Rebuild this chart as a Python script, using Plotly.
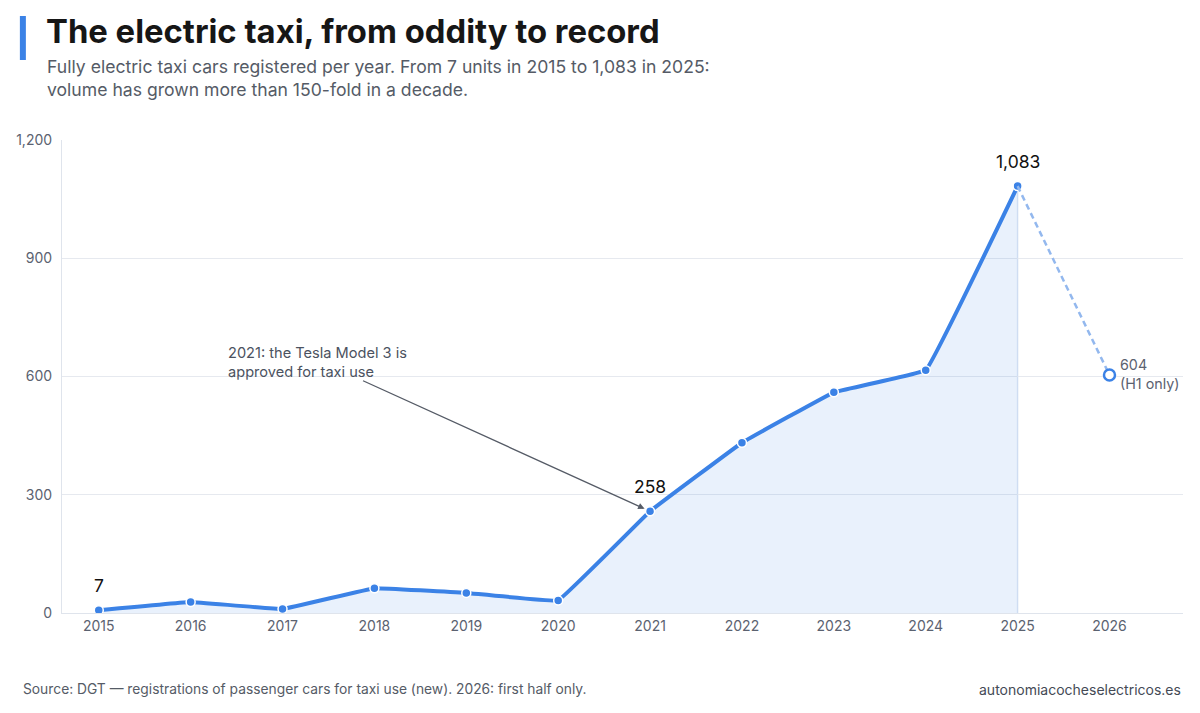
import plotly.graph_objects as go

years = [2015, 2016, 2017, 2018, 2019, 2020, 2021, 2022, 2023, 2024, 2025]
values = [7, 28, 10, 63, 51, 32, 258, 432, 560, 616, 1083]
partial_year = 2026
partial_value = 604
x_ticks = list(range(2015, 2027))
y_ticks = [0, 300, 600, 900, 1200]

BLUE = "#3b82e6"
FONT = "Inter"

fig = go.Figure()

fig.add_trace(go.Scatter(
    x=years, y=values, mode="lines+markers",
    line=dict(color=BLUE, width=4, shape="spline", smoothing=0.15),
    fill="tozeroy", fillcolor="rgba(59,130,230,0.11)",
    marker=dict(size=9, color=BLUE, line=dict(color="white", width=1.5)),
    hoverinfo="x+y", showlegend=False,
))

fig.add_trace(go.Scatter(
    x=[years[-1], partial_year], y=[values[-1], partial_value],
    mode="lines", line=dict(color="#93b8ee", width=2.5, dash="6px,4px"),
    showlegend=False, hoverinfo="skip",
))
fig.add_trace(go.Scatter(
    x=[partial_year], y=[partial_value], mode="markers",
    marker=dict(size=11, color="white", line=dict(color=BLUE, width=2.5)),
    showlegend=False, hoverinfo="x+y",
))

fig.add_shape(type="line", x0=years[-1], x1=years[-1], y0=0, y1=values[-1],
              line=dict(color="#dbe5f4", width=1.5), layer="below")

# accent bar next to title
fig.add_shape(type="line", xref="paper", yref="paper", x0=-0.0349, x1=-0.0349,
              y0=(613 - 16) / 473, y1=(613 - 60) / 473,
              line=dict(color=BLUE, width=6))

for yr, v in [(years[0], values[0]), (years[6], values[6]), (years[-1], values[-1])]:
    fig.add_annotation(x=yr, y=v, text=f"{v:,}", showarrow=False,
                       yshift=25, font=dict(family=FONT, size=17.5, color="#111111"))

fig.add_annotation(x=partial_year, y=partial_value, text=f"{partial_value}<br>(H1 only)",
                   showarrow=False, xanchor="left", yanchor="middle", xshift=9, yshift=1,
                   align="left", font=dict(family=FONT, size=14.3, color="#5b6270"))

fig.add_annotation(x=years[6], y=values[6], ax=2017.86, ay=591, axref="x", ayref="y",
                   xref="x", yref="y", text="", showarrow=True, arrowhead=2,
                   arrowsize=1, arrowwidth=1.3, arrowcolor="#555b66", standoff=6)
fig.add_annotation(x=2016.39, y=688, xref="x", yref="y",
                   text="2021: the Tesla Model 3 is<br>approved for taxi use",
                   showarrow=False, xanchor="left", yanchor="top", align="left",
                   font=dict(family=FONT, size=14.6, color="#4b5260"))

fig.add_annotation(xref="paper", yref="paper", x=-0.0153, y=(613 - 54) / 473,
                   xanchor="left", yanchor="top", align="left", showarrow=False,
                   text="Fully electric taxi cars registered per year. From 7 units in 2015 to 1,083 in 2025:<br>volume has grown more than 150-fold in a decade.",
                   font=dict(family=FONT, size=17.6, color="#555b66"))
fig.add_annotation(xref="paper", yref="paper", x=-0.0365, y=(613 - 689) / 473,
                   xanchor="left", yanchor="middle", showarrow=False,
                   text="Source: DGT — registrations of passenger cars for taxi use (new). 2026: first half only.",
                   font=dict(family=FONT, size=13.8, color="#555b66"))
fig.add_annotation(xref="paper", yref="paper", x=1.0, y=(613 - 689) / 473,
                   xanchor="right", yanchor="middle", showarrow=False,
                   text="autonomiacocheselectricos.es",
                   font=dict(family=FONT, size=14, color="#444a55"))

fig.update_layout(
    width=1200, height=713,
    margin=dict(l=62, r=17, t=140, b=100),
    paper_bgcolor="white", plot_bgcolor="white",
    font=dict(family=FONT, size=14, color="#5b6270"),
    title=dict(text="<b>The electric taxi, from oddity to record</b>",
               x=46 / 1200, xanchor="left", xref="container",
               y=1 - 20 / 713, yanchor="top", yref="container",
               font=dict(family=FONT, size=32.8, color="#161616")),
    xaxis=dict(range=[2014.6, 2026.8], tickvals=x_ticks, ticktext=[str(t) for t in x_ticks],
               showgrid=False, zeroline=False, showline=True, linecolor="#dfe4ec", linewidth=1.2,
               ticks="", tickfont=dict(size=14, color="#5b6270"), fixedrange=True),
    yaxis=dict(range=[0, 1200], tickvals=y_ticks, tickformat=",", showgrid=True,
               gridcolor="#e6e9ef", gridwidth=1, zeroline=False, showline=True,
               linecolor="#dfe4ec", linewidth=1.2, ticks="", ticklabelstandoff=6,
               tickfont=dict(size=14, color="#5b6270"), fixedrange=True),
)

fig.write_html("out.html", config={"displayModeBar": False},
               post_script="document.body.style.margin='0';")
